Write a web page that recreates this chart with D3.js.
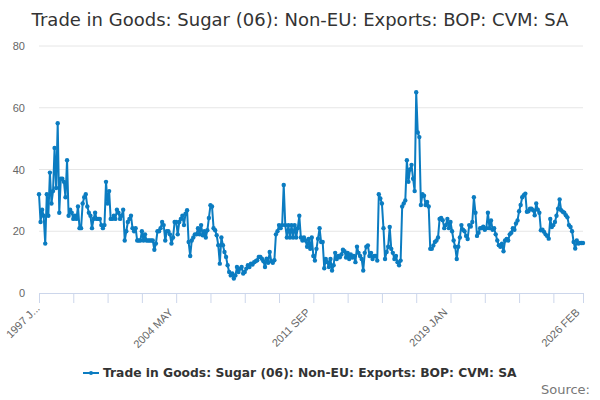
<!DOCTYPE html>
<html>
<head>
<meta charset="utf-8">
<script src="https://cdn.jsdelivr.net/npm/d3@7"></script>
<style>
  body { margin: 0; background: #fff; }
  svg { font-family: "DejaVu Sans", sans-serif; }
</style>
</head>
<body>
<svg width="600" height="400"></svg>
<script>
const title = 'Trade in Goods: Sugar (06): Non-EU: Exports: BOP: CVM: SA';
const seriesName = 'Trade in Goods: Sugar (06): Non-EU: Exports: BOP: CVM: SA';
const monthNames = ['JAN','FEB','MAR','APR','MAY','JUN','JUL','AUG','SEP','OCT','NOV','DEC'];
const startYear = 1997;

// monthly values, 1997 JAN .. 2026 FEB
const values = [
  32, 23, 27, 25, 16, 32, 25, 39, 29, 33,
  47, 34, 55, 26, 37, 37, 36, 31, 43, 25,
  27, 26, 24, 25, 24, 28, 21, 21, 29, 31,
  32, 28, 26, 25, 21, 24, 26, 24, 24, 24,
  22, 21, 22, 36, 29, 33, 24, 24, 25, 24,
  27, 26, 24, 25, 27, 17, 20, 23, 24, 25,
  21, 20, 21, 17, 17, 17, 20, 17, 19, 17,
  17, 17, 17, 17, 14, 16, 20, 20, 21, 23,
  22, 17, 20, 20, 19, 16, 18, 23, 23,
  19, 23, 24, 25, 22, 25.7, 26.8, 16.5, 12, 17, 18,
  19, 19, 21, 19, 22, 18.7, 20, 18, 20.3, 24.3,
  28.4, 28, 21, 20.3, 18.7, 15.5, 9.5, 18, 15.5, 13.3,
  11.7, 9, 6.8, 5.7, 6.3, 4.7, 5.7, 8.4, 6.8, 7.9,
  8.4, 6.3, 6.8, 7.9, 9, 8.4, 9.5, 9.2, 10, 10.3,
  10.6, 11.7, 11.7, 11.1, 10.3, 8.4, 11.1, 9.8, 13.3, 10.3,
  9.8, 10.6, 19, 20, 22, 21, 22, 35, 22, 18,
  22, 18, 22, 18, 22, 18, 21, 25, 18, 17,
  18, 17, 15, 17.5,
  14.3, 18, 12, 10.5, 14.3, 17.6,
  21, 16.5, 16.5, 8, 11, 10, 8.4, 11, 7.3, 9,
  13, 11, 12, 11.6, 12.5, 14, 13.5, 11.5, 13, 11,
  12.5, 11.5, 12, 10, 15, 13, 12, 11, 7.3, 13,
  15, 15.4, 12, 13, 11, 12, 12, 10.5, 32, 30.6,
  29, 21, 11, 13.3, 15, 21.4, 14.3, 13, 11, 12,
  10, 9, 10.5, 28, 29, 30, 43, 36, 40, 41.5,
  37, 33, 65, 52, 50.5, 28.5, 32, 31.5, 28.5, 29.5,
  28, 14.3, 14.3, 15.4, 16.5, 17, 18, 24, 24.3, 23.6,
  21, 22, 24, 21, 23, 20, 17, 15, 11, 15,
  18, 22, 20.5, 20, 18.5, 17.5, 22, 21.5, 23, 31,
  26, 18.5, 19.5, 21, 21, 21.5, 20.5, 21, 26, 21,
  23.5, 20.5, 21, 19, 17, 15.5, 15, 16, 13.5, 17,
  17.5, 17, 19, 19.5, 21, 20.5, 22.5, 23.5, 26.5, 28.5,
  31, 31.7, 32.2, 26.3, 26.5, 27.3, 27.3, 26.8, 25.2, 29,
  27, 26, 20.3, 20.5, 19.8, 19, 18.5, 17.6, 24, 21.4,
  22, 23, 25, 27.3, 30.3, 26.8, 26.3, 26, 25.2, 24.5,
  22, 21.4, 20, 16.5, 14.4, 17, 16, 16.2, 16.2, 16.2
];

const categories = values.map((v, i) => (startYear + Math.floor(i / 12)) + ' ' + monthNames[i % 12]);
const yTicks = [0, 20, 40, 60, 80];
const tickStep = 22;
const labelStep = 88;

const svg = d3.select('svg');
const margin = {top: 46, right: 17, bottom: 107, left: 39};
const width = +svg.attr('width');
const height = +svg.attr('height');
const innerW = width - margin.left - margin.right;
const innerH = height - margin.top - margin.bottom;
const color = '#0b7cc1';

const x = d3.scalePoint()
  .domain(categories)
  .range([0, innerW]);

const y = d3.scaleLinear()
  .domain([0, 80])
  .range([innerH, 0]);

svg.append('text')
  .attr('x', width / 2)
  .attr('y', 26)
  .attr('text-anchor', 'middle')
  .attr('fill', '#333')
  .style('font-size', '18px')
  .text(title);

const g = svg.append('g')
  .attr('transform', `translate(${margin.left},${margin.top})`);

// grid
g.append('g')
  .selectAll('line')
  .data(yTicks.filter(d => d > 0))
  .enter()
  .append('line')
  .attr('x1', 0)
  .attr('x2', innerW)
  .attr('y1', d => y(d))
  .attr('y2', d => y(d))
  .attr('stroke', '#e6e6e6');

// y axis labels
const yAxis = g.append('g')
  .call(d3.axisLeft(y).tickValues(yTicks).tickSize(0).tickPadding(14));
yAxis.select('.domain').remove();
yAxis.selectAll('text')
  .attr('fill', '#666')
  .style('font-size', '11px');

// x axis
const tickCats = categories.filter((c, i) => i % tickStep === 0 || i === categories.length - 1);
const labelCats = categories.filter((c, i) => i % labelStep === 0 || i === categories.length - 1);

const xAxis = g.append('g')
  .attr('transform', `translate(0,${innerH})`)
  .call(d3.axisBottom(x).tickValues(tickCats).tickSizeInner(10).tickSizeOuter(0)
    .tickFormat(c => labelCats.includes(c) ? (c === categories[0] ? '1997 J...' : c) : ''));
xAxis.select('.domain').attr('stroke', '#ccd6eb');
xAxis.selectAll('.tick line').attr('stroke', '#ccd6eb');
xAxis.selectAll('text')
  .attr('fill', '#666')
  .style('font-size', '11px')
  .attr('text-anchor', 'end')
  .attr('x', 0)
  .attr('y', 0)
  .attr('dy', null)
  .attr('transform', c => c === categories[0] ? 'translate(1,16) rotate(-45)' : 'translate(-3,20) rotate(-45)');

// line
const line = d3.line()
  .x((d, i) => x(categories[i]))
  .y(d => y(d));

g.append('path')
  .datum(values)
  .attr('fill', 'none')
  .attr('stroke', color)
  .attr('stroke-width', 2)
  .attr('stroke-linejoin', 'round')
  .attr('d', line);

g.append('g')
  .selectAll('circle')
  .data(values)
  .enter()
  .append('circle')
  .attr('cx', (d, i) => x(categories[i]))
  .attr('cy', d => y(d))
  .attr('r', 2.2)
  .attr('fill', color);

// legend
const legend = svg.append('g').attr('transform', 'translate(83,373)');
legend.append('line')
  .attr('x1', 0).attr('x2', 16)
  .attr('stroke', color).attr('stroke-width', 2);
legend.append('circle')
  .attr('cx', 8).attr('r', 2).attr('fill', color);
legend.append('text')
  .attr('x', 20)
  .attr('dy', '0.35em')
  .attr('fill', '#333')
  .style('font-size', '12.3px')
  .style('font-weight', 'bold')
  .text(seriesName);

svg.append('text')
  .attr('x', 590)
  .attr('y', 394)
  .attr('text-anchor', 'end')
  .attr('fill', '#777')
  .style('font-size', '13px')
  .text('Source:');
</script>
</body>
</html>
